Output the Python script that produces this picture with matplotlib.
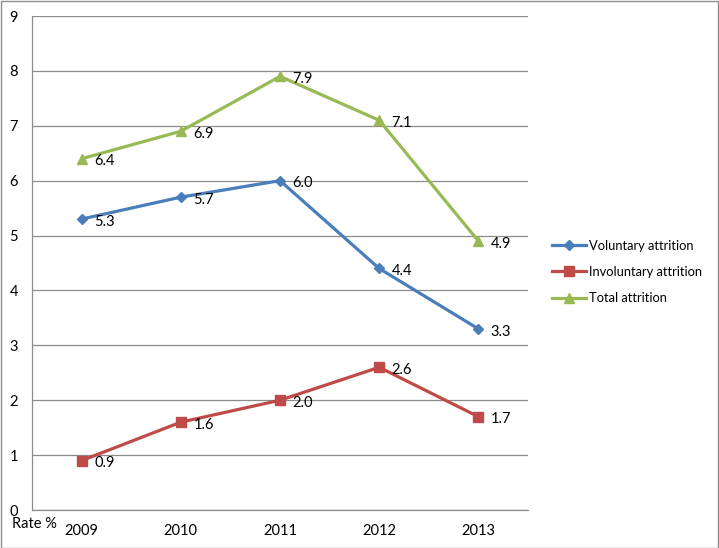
import matplotlib
matplotlib.use('Agg')
import matplotlib.pyplot as plt
from matplotlib.patches import Rectangle

years = ['2009', '2010', '2011', '2012', '2013']
voluntary = [5.3, 5.7, 6.0, 4.4, 3.3]
involuntary = [0.9, 1.6, 2.0, 2.6, 1.7]
total = [6.4, 6.9, 7.9, 7.1, 4.9]

plt.rcParams['font.family'] = ['Lato', 'DejaVu Sans']

C_BLUE = '#4A7EBB'
C_RED = '#BE4B48'
C_GREEN = '#98B954'
C_GRID = '#8C8C8C'

fig = plt.figure(figsize=(7.19, 5.48), dpi=100, facecolor='white')
ax = fig.add_axes([32 / 719, 38 / 548, 496 / 719, 494 / 548])

x = [i + 0.5 for i in range(len(years))]
series = [
    (voluntary, 'Voluntary attrition', C_BLUE, 'D', 5.5),
    (involuntary, 'Involuntary attrition', C_RED, 's', 7),
    (total, 'Total attrition', C_GREEN, '^', 7),
]
for vals, name, col, mk, ms in series:
    ax.plot(x, vals, color=col, lw=2.3, marker=mk, ms=ms,
            markerfacecolor=col, markeredgecolor=col, label=name)
    for xi, v in zip(x, vals):
        ax.annotate(f'{v:.1f}', (xi, v), xytext=(9, -2), textcoords='offset points',
                    ha='left', va='center', fontsize=10.5, color='black')

ax.set_xlim(0, len(years))
ax.set_ylim(0, 9)
ax.set_yticks(range(10))
ax.set_xticks(x)
ax.set_xticklabels(years)
ax.tick_params(axis='both', length=0, labelsize=10.5, colors='black')
ax.tick_params(axis='y', pad=10)
ax.tick_params(axis='x', pad=10)
ax.grid(axis='y', color=C_GRID, lw=0.9)
ax.set_axisbelow(True)
for s in ['top', 'right']:
    ax.spines[s].set_visible(False)
for s in ['left', 'bottom']:
    ax.spines[s].set_color(C_GRID)
    ax.spines[s].set_linewidth(0.9)

fig.text(12 / 719, 1 - 524 / 548, 'Rate %', fontsize=10.5, ha='left', va='center')

ax.legend(loc='center left', bbox_to_anchor=(546 / 719, 1 - 272 / 548),
          bbox_transform=fig.transFigure, frameon=False, fontsize=9.3,
          handlelength=2.6, handletextpad=0.2, labelspacing=1.1, borderpad=0)

fig.patches.append(Rectangle((0.5 / 719, 0.5 / 548), 1 - 1.5 / 719, 1 - 1.5 / 548,
                             transform=fig.transFigure, fill=False,
                             edgecolor=C_GRID, lw=1))

fig.savefig('out.png', dpi=100, facecolor='white')
